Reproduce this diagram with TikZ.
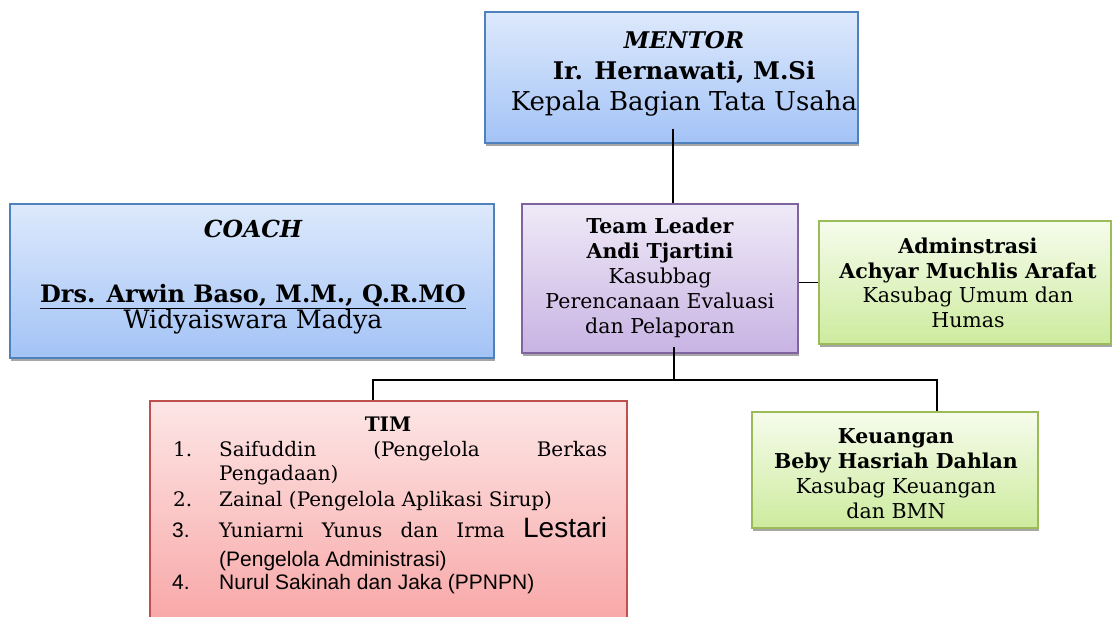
\documentclass[tikz,border=0pt]{standalone}
\usepackage{fontspec}
\setmainfont{DejaVu Serif}
\newfontfamily\arial{Liberation Sans}
\usetikzlibrary{shadows}
\definecolor{bluetop}{HTML}{DDE9FC}
\definecolor{bluebot}{HTML}{A3C3F6}
\definecolor{blueline}{HTML}{4F81BD}
\definecolor{purtop}{HTML}{EFEAF7}
\definecolor{purbot}{HTML}{C8B3E3}
\definecolor{purline}{HTML}{8064A2}
\definecolor{grntop}{HTML}{F6FCEC}
\definecolor{grnbot}{HTML}{CDEB9E}
\definecolor{grnline}{HTML}{9BBB59}
\definecolor{redtop}{HTML}{FDE6E6}
\definecolor{redbot}{HTML}{F8A2A2}
\definecolor{redline}{HTML}{C0504D}
\tikzset{
  card/.style={rectangle, inner sep=0pt, line width=1.2pt,
    drop shadow={shadow xshift=0.5pt, shadow yshift=-3pt, opacity=0.35, fill=black}},
  bluecard/.style={card, draw=blueline, top color=bluetop, bottom color=bluebot},
  purcard/.style={card, draw=purline, top color=purtop, bottom color=purbot},
  grncard/.style={card, draw=grnline, top color=grntop, bottom color=grnbot},
  redcard/.style={card, draw=redline, top color=redtop, bottom color=redbot},
  conn/.style={draw=black, line width=1.3pt},
  txt/.style={align=center, inner sep=0pt},
  item/.style={anchor=base west, inner sep=0pt, font=\fontsize{20}{24}\selectfont},
  sitem/.style={anchor=base west, inner sep=0pt, font=\arial\fontsize{21}{24}\selectfont},
}
\begin{document}
\begin{tikzpicture}[x=1pt,y=-1pt]
\useasboundingbox (0,0) rectangle (1112,617);
% boxes
\node[bluecard, minimum width=373pt, minimum height=131pt] (mentor) at (671.5,77.5) {};
\node[bluecard, minimum width=484pt, minimum height=154pt] (coach) at (252,281) {};
\node[purcard, minimum width=276pt, minimum height=149pt] (tl) at (660,278.5) {};
\node[grncard, minimum width=292pt, minimum height=123pt] (admin) at (965,282.5) {};
\node[redcard, minimum width=477pt, minimum height=239pt] (tim) at (388.5,520.5) {};
\node[grncard, minimum width=286pt, minimum height=116pt] (keu) at (895,470) {};
% connectors
\coordinate (mx) at (673,0);
\coordinate (tx) at (674,380);
\coordinate (bl) at (373,380);
\coordinate (br) at (937,380);
\draw[conn] (mentor.south -| mx) ++(0,-15) -- (tl.north -| mx);
\draw[conn] (tl.east |- admin.west) -- (admin.west);
\draw[conn] (tl.south -| tx) ++(0,-7) -- (tx);
\draw[conn] (tim.north -| bl) -- (bl) -- (br) -- (keu.north -| br);
% texts
\node[txt, font=\fontsize{26}{31}\selectfont] (mentortxt) at (684,74)
  {{\fontsize{23}{31}\selectfont\bfseries\itshape MENTOR}\\{\fontsize{24.3}{31}\selectfont\bfseries Ir. Hernawati, M.Si}\\Kepala Bagian Tata Usaha};
\node[txt, font=\fontsize{24}{25}\selectfont] (coachtxt) at (253,277)
  {{\fontsize{23.5}{25}\selectfont\bfseries\itshape COACH}\\[40pt]\underline{\textbf{Drs. Arwin Baso, M.M., Q.R.MO}}\\{\fontsize{25.3}{25}\selectfont Widyaiswara Madya}};
\node[txt, font=\fontsize{20.5}{25}\selectfont] (tltxt) at (660,278)
  {\textbf{Team Leader}\\\textbf{Andi Tjartini}\\Kasubbag\\Perencanaan Evaluasi\\dan Pelaporan};
\node[txt, font=\fontsize{20.5}{24.5}\selectfont] (admintxt) at (968,283)
  {\textbf{Adminstrasi}\\\textbf{Achyar Muchlis Arafat}\\Kasubag Umum dan\\Humas};
\node[txt, font=\fontsize{20.5}{25}\selectfont] (keutxt) at (896,474)
  {\textbf{Keuangan}\\\textbf{Beby Hasriah Dahlan}\\Kasubag Keuangan\\dan BMN};
% TIM list
\node[anchor=base, inner sep=0pt, font=\fontsize{20}{24}\selectfont\bfseries] (timtitle) at (388,432) {TIM};
\node[item] (n1) at (173,457) {1.};
\node[item] (l1a) at (219,457) {\makebox[388pt][s]{Saifuddin (Pengelola Berkas}};
\node[item] (l1b) at (219,481) {Pengadaan)};
\node[item] (n2) at (173,507) {2.};
\node[item] (l2) at (219,507) {Zainal (Pengelola Aplikasi Sirup)};
\node[sitem] (n3) at (172,538) {3.};
\node[item] (l3a) at (219,538) {\makebox[388pt][s]{Yuniarni Yunus dan Irma {\arial\fontsize{28}{30}\selectfont Lestari}}};
\node[sitem] (l3b) at (219,566) {(Pengelola Administrasi)};
\node[sitem] (n4) at (172,589) {4.};
\node[sitem] (l4) at (219,589) {Nurul Sakinah dan Jaka (PPNPN)};
\end{tikzpicture}
\end{document}
